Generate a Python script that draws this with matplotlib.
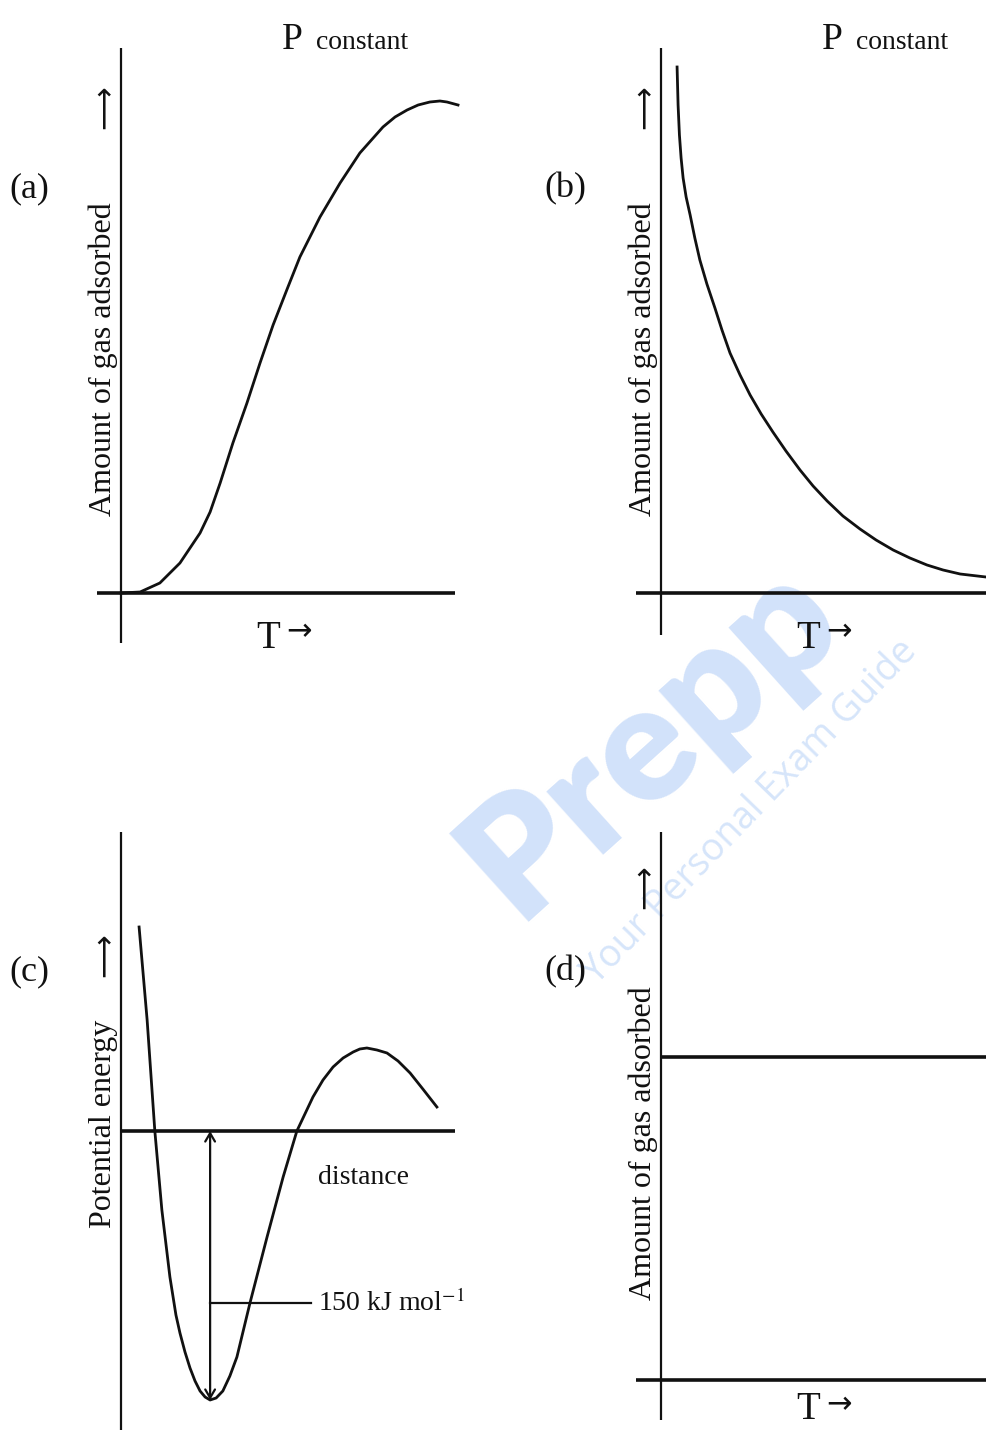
import matplotlib.pyplot as plt

plt.rcParams['mathtext.fontset'] = 'stix'

W, H = 986, 1430
SX, SY = 33.5, 50.0          # pixels per data unit
SERIF = ['Liberation Serif', 'DejaVu Serif']
ARROW = ['DejaVu Sans']

# (a) amount adsorbed rises with T (chemisorption)
a_t = [0, 0.57, 1.16, 1.76, 2.36, 2.66, 2.96, 3.34, 3.76, 4.15, 4.54, 4.96,
       5.34, 5.94, 6.54, 7.13, 7.82, 8.18, 8.54, 8.87, 9.22, 9.52, 9.73, 10.06]
a_amount = [0, 0.02, 0.2, 0.6, 1.2, 1.62, 2.2, 3.0, 3.8, 4.6, 5.36, 6.08,
            6.72, 7.52, 8.2, 8.8, 9.32, 9.52, 9.66, 9.76, 9.82, 9.84, 9.82, 9.76]

# (b) amount adsorbed falls with T (physisorption)
b_t = [0.48, 0.51, 0.55, 0.60, 0.66, 0.75, 0.87, 1.01, 1.16, 1.37, 1.61,
       1.82, 2.06, 2.36, 2.66, 2.99, 3.34, 3.73, 4.15, 4.54, 4.96, 5.43,
       5.94, 6.42, 6.93, 7.43, 7.94, 8.42, 8.93, 9.70]
b_amount = [10.52, 9.76, 9.16, 8.70, 8.30, 7.92, 7.56, 7.10, 6.66, 6.18, 5.70,
            5.26, 4.80, 4.36, 3.96, 3.58, 3.22, 2.84, 2.46, 2.14, 1.84, 1.54,
            1.28, 1.06, 0.86, 0.70, 0.56, 0.46, 0.38, 0.32]

# (c) potential energy vs distance
c_dist = [0.54, 0.78, 1.01, 1.22, 1.46, 1.64, 1.76, 1.91, 2.06, 2.21, 2.36,
          2.51, 2.66, 2.84, 3.04, 3.25, 3.46, 3.85, 4.36, 4.84, 5.25, 5.73,
          6.03, 6.33, 6.63, 6.93, 7.13, 7.34, 7.64, 7.94, 8.27, 8.63, 9.01, 9.43]
c_energy = [4.08, 2.22, 0, -1.58, -2.92, -3.68, -4.04, -4.42, -4.74, -5.0, -5.2,
            -5.32, -5.38, -5.34, -5.2, -4.9, -4.52, -3.44, -2.12, -0.92, 0, 0.68,
            1.02, 1.28, 1.46, 1.58, 1.64, 1.66, 1.62, 1.56, 1.40, 1.16, 0.84, 0.48]
c_well_x = 2.66
c_well_depth = -5.38
c_mark_y = -3.44

# (d) amount adsorbed independent of T
d_t = [0, 9.8]
d_amount = [6.46, 6.46]

fig = plt.figure(figsize=(W / 100, H / 100), dpi=100)


def panel(ox, oy, x0, x1, y0, y1):
    # axes box given in pixels, origin of the diagram at (ox, oy)
    ax = fig.add_axes([x0 / W, 1 - y1 / H, (x1 - x0) / W, (y1 - y0) / H])
    ax.set_xlim((x0 - ox) / SX, (x1 - ox) / SX)
    ax.set_ylim((oy - y1) / SY, (oy - y0) / SY)
    ax.axis('off')
    return ax


def label(x, y, s, size, rot=0, ha='center', va='center', **kw):
    kw.setdefault('family', SERIF)
    kw.setdefault('color', '#111111')
    fig.text(x / W, 1 - y / H, s, fontsize=size, rotation=rot,
             ha=ha, va=va, **kw)


def axes_lines(ax, xa, xb, ya, yb):
    ax.plot([xa, xb], [0, 0], color='#111111', lw=2.6, solid_capstyle='butt')
    ax.plot([0, 0], [ya, yb], color='#111111', lw=1.6, solid_capstyle='butt')


# watermark
label(650, 738, 'Prepp', 118, rot=42, family=['Lato', 'DejaVu Sans'],
      fontweight='heavy', color='#d2e2fa', zorder=-2)
label(750, 812, 'Your Personal Exam Guide', 27, rot=46,
      family=['Open Sans', 'DejaVu Sans'], color='#d6e5fa', zorder=-2)

# (a)
ax = panel(121, 593, 90, 470, 40, 660)
axes_lines(ax, -0.72, 9.97, 10.9, -1.0)
ax.plot(a_t, a_amount, color='#111111', lw=2.0)

# (b)
ax = panel(661, 593, 630, 986, 40, 660)
axes_lines(ax, -0.75, 9.8, 10.9, -0.84)
ax.plot(b_t, b_amount, color='#111111', lw=2.0)

# (c)
ax = panel(121, 1131, 90, 470, 820, 1430)
axes_lines(ax, 0, 9.97, 5.98, -6.2)
ax.plot(c_dist, c_energy, color='#111111', lw=2.0)
ax.annotate('', xy=(c_well_x, 0), xytext=(c_well_x, c_well_depth),
            arrowprops=dict(arrowstyle='<->,head_length=0.6,head_width=0.35',
                            color='#111111', lw=1.6, shrinkA=0, shrinkB=0))
ax.plot([c_well_x, 5.67], [c_mark_y, c_mark_y], color='#111111', lw=1.6)

# (d)
ax = panel(661, 1380, 630, 986, 820, 1430)
axes_lines(ax, -0.75, 9.8, 10.96, -0.8)
ax.plot(d_t, d_amount, color='#111111', lw=2.6, solid_capstyle='butt')

# texts
for cx, tag in [(29, '(a)'), (565, '(b)')]:
    label(cx, 189, tag, 26)
for cx, tag in [(29, '(c)'), (565, '(d)')]:
    label(cx, 972, tag, 26)

for px in [282, 822]:
    label(px, 49, 'P', 27, ha='left', va='baseline')
    label(px + 34, 49, 'constant', 20, ha='left', va='baseline')

label(103, 359, 'Amount of gas adsorbed', 23, rot=90)
label(105, 107, '\u27f6', 22, rot=90, family=ARROW)
label(643, 359, 'Amount of gas adsorbed', 23, rot=90)
label(645, 107, '\u27f6', 22, rot=90, family=ARROW)
label(103, 1124, 'Potential energy', 23, rot=90)
label(105, 955, '\u27f6', 22, rot=90, family=ARROW)
label(643, 1143, 'Amount of gas adsorbed', 23, rot=90)
label(645, 887, '\u27f6', 22, rot=90, family=ARROW)

for tx, ty in [(268, 648), (808, 648)]:
    label(tx, ty, 'T', 28, va='baseline')
    label(tx + 31, ty - 16, '\u2192', 22, family=ARROW)
# bottom one sits at the lower edge of the picture
label(808, 1428, 'T', 28, va='bottom')
label(839, 1405, '\u2192', 22, family=ARROW)

label(318, 1177, 'distance', 20, ha='left')
label(318, 1303, '150 kJ mol$^{-1}$', 20, ha='left')

fig.savefig('out.png', dpi=100)
